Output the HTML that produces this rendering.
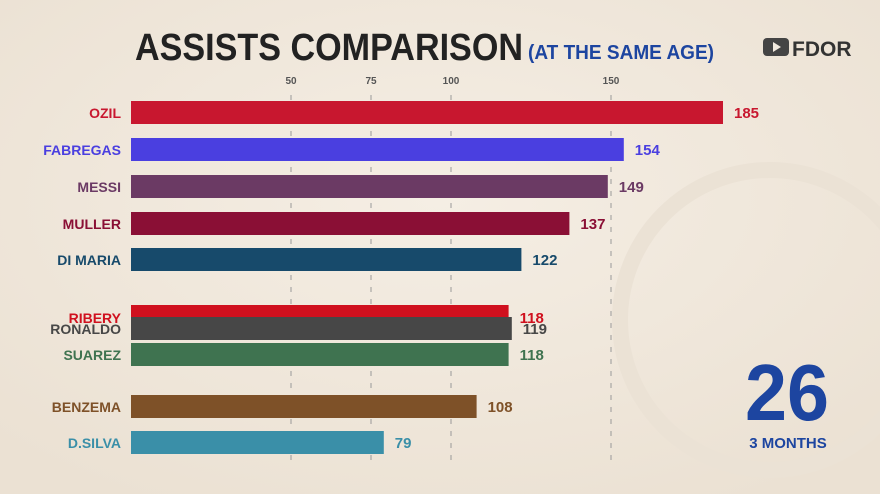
<!DOCTYPE html>
<html><head><meta charset="utf-8"><style>
body{margin:0;width:880px;height:494px;overflow:hidden;background:#f2eadf;font-family:"Liberation Sans",sans-serif;}
svg{display:block}
</style></head><body>
<svg width="880" height="494">
<defs><radialGradient id="bg" cx="50%" cy="40%" r="70%"><stop offset="0" stop-color="#f5eee4"/><stop offset="1" stop-color="#ebe1d3"/></radialGradient></defs>
<rect width="880" height="494" fill="url(#bg)"/>
<circle cx="770" cy="320" r="150" fill="none" stroke="#ebe2d5" stroke-width="16"/>
<text x="135" y="60" font-size="38" font-weight="bold" fill="#222" textLength="388" lengthAdjust="spacingAndGlyphs">ASSISTS COMPARISON</text>
<text x="528" y="59" font-size="20" font-weight="bold" fill="#1d45a0" textLength="186" lengthAdjust="spacingAndGlyphs">(AT THE SAME AGE)</text>
<rect x="763" y="38" width="26" height="18" rx="4" fill="#444"/>
<polygon points="773,42 773,52 781,47" fill="#f2eadf"/>
<text x="792" y="56" font-size="21" font-weight="bold" fill="#333">FDOR</text>
<g id="axis"></g>
<g id="bars"></g>
<text x="787" y="420" font-size="80" font-weight="bold" fill="#1d45a0" text-anchor="middle" textLength="84" lengthAdjust="spacingAndGlyphs">26</text>
<text x="788" y="448" font-size="15" font-weight="bold" fill="#1d45a0" text-anchor="middle">3 MONTHS</text>
</svg>
<script>
const players=["OZIL","FABREGAS","MESSI","MULLER","DI MARIA","RIBERY","RONALDO","SUAREZ","BENZEMA","D.SILVA"];
const assists=[185,154,149,137,122,118,119,118,108,79];
const colors=["#c8172f","#4a3fe0","#6b3a64","#8a0f35","#174a6b","#d0101e","#474747","#3f7350","#7e5128","#3a8fa8"];
const labelColors=["#c8172f","#4a3fe0","#6b3a64","#8a0f35","#174a6b","#d0101e","#474747","#3f7350","#7e5128","#3a8fa8"];
const tickValues=[50,75,100,150];
const rowTops=[101,138,175,212,248,305,317,343,395,431];
const ns="http://www.w3.org/2000/svg";
const x=v=>131+v*3.2;
const ax=document.getElementById('axis'),bg=document.getElementById('bars');
tickValues.forEach(t=>{
 const tx=document.createElementNS(ns,'text');
 
 
 tx.setAttribute('x',x(t));tx.setAttribute('y',84);tx.setAttribute('font-size',10);tx.setAttribute('font-weight','bold');tx.setAttribute('fill','#555');tx.setAttribute('text-anchor','middle');tx.textContent=t;ax.appendChild(tx);
 const l=document.createElementNS(ns,'line');
 
 
 l.setAttribute('x1',x(t));l.setAttribute('x2',x(t));l.setAttribute('y1',95);l.setAttribute('y2',462);l.setAttribute('stroke','#999');l.setAttribute('stroke-dasharray','5 7');ax.appendChild(l);
});
players.forEach((p,i)=>{
 const y=rowTops[i],h=i==5?14:23;
 const r=document.createElementNS(ns,'rect');
 
 
 r.setAttribute('x',131);r.setAttribute('y',y);r.setAttribute('width',x(assists[i])-131);r.setAttribute('height',h);r.setAttribute('fill',colors[i]);bg.appendChild(r);
 const ly=i==5?y+18:y+17;
 const n=document.createElementNS(ns,'text');
 
 
 n.setAttribute('x',121);n.setAttribute('y',ly);n.setAttribute('font-size',14);n.setAttribute('font-weight','bold');n.setAttribute('fill',labelColors[i]);n.setAttribute('text-anchor','end');n.textContent=p;bg.appendChild(n);
 const v=document.createElementNS(ns,'text');
 
 
 v.setAttribute('x',x(assists[i])+11);v.setAttribute('y',ly);v.setAttribute('font-size',15);v.setAttribute('font-weight','bold');v.setAttribute('fill',labelColors[i]);v.textContent=assists[i];bg.appendChild(v);
});
</script>
</body></html>
